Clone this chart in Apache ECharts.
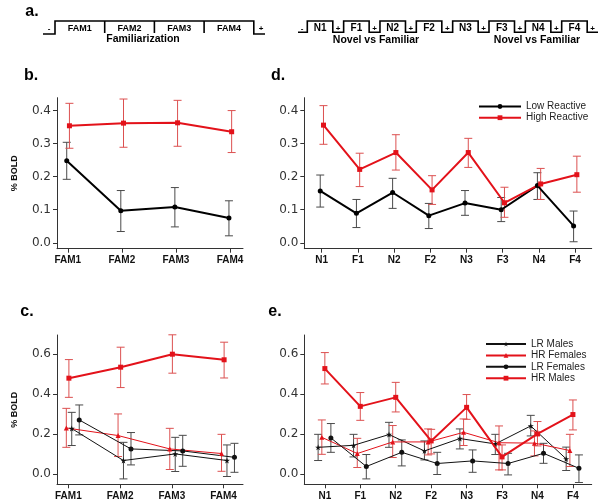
<!DOCTYPE html>
<html>
<head>
<meta charset="utf-8">
<script src="https://cdn.jsdelivr.net/npm/echarts@6/dist/echarts.min.js"></script>
<style>
html, body { margin: 0; padding: 0; background: #fff; }
#chart { width: 600px; height: 503px; }
</style>
</head>
<body>
<div id="chart"></div>
<script>
// categories and tick values
var famCats = ['FAM1', 'FAM2', 'FAM3', 'FAM4'];
var nfCats = ['N1', 'F1', 'N2', 'F2', 'N3', 'F3', 'N4', 'F4'];
var ticksTop = [0, 0.1, 0.2, 0.3, 0.4];
var ticksBottom = [0, 0.2, 0.4, 0.6];

// each point: [mean, lower whisker, upper whisker]
// b. familiarization
var bLow = [[0.248, 0.192, 0.304], [0.097, 0.034, 0.158], [0.108, 0.048, 0.167], [0.075, 0.021, 0.127]];
var bHigh = [[0.354, 0.286, 0.422], [0.362, 0.289, 0.435], [0.363, 0.292, 0.431], [0.336, 0.273, 0.400]];
// d. novel vs familiar
var dLow = [[0.157, 0.108, 0.205], [0.089, 0.046, 0.131], [0.152, 0.104, 0.195], [0.082, 0.043, 0.119],
  [0.120, 0.083, 0.158], [0.100, 0.064, 0.137], [0.173, 0.131, 0.212], [0.051, 0.003, 0.096]];
var dHigh = [[0.356, 0.298, 0.415], [0.222, 0.170, 0.271], [0.273, 0.220, 0.327], [0.160, 0.116, 0.203],
  [0.273, 0.228, 0.316], [0.121, 0.077, 0.168], [0.178, 0.131, 0.225], [0.206, 0.153, 0.262]];
// c. familiarization by sex
var cHRM = [[0.479, 0.383, 0.572], [0.534, 0.432, 0.634], [0.599, 0.504, 0.696], [0.571, 0.480, 0.659]];
var cHRF = [[0.230, 0.133, 0.328], [0.192, 0.087, 0.300], [0.125, 0.022, 0.228], [0.102, 0.013, 0.198]];
var cLRM = [[0.227, 0.142, 0.308], [0.067, -0.025, 0.158], [0.100, 0.012, 0.183], [0.067, -0.013, 0.145]];
var cLRF = [[0.270, 0.195, 0.345], [0.125, 0.045, 0.207], [0.115, 0.038, 0.193], [0.083, 0.008, 0.153]];
// e. novel vs familiar by sex
var eLRM = [[0.133, 0.067, 0.198], [0.143, 0.085, 0.198], [0.197, 0.133, 0.258], [0.115, 0.070, 0.165],
  [0.177, 0.125, 0.225], [0.150, 0.097, 0.198], [0.240, 0.190, 0.293], [0.075, 0.017, 0.134]];
var eHRF = [[0.183, 0.098, 0.270], [0.102, 0.032, 0.178], [0.160, 0.082, 0.242], [0.160, 0.095, 0.225],
  [0.208, 0.142, 0.275], [0.156, 0.020, 0.240], [0.154, 0.090, 0.215], [0.117, 0.037, 0.198]];
var eLRF = [[0.180, 0.108, 0.252], [0.037, -0.025, 0.097], [0.108, 0.040, 0.170], [0.052, -0.003, 0.108],
  [0.065, 0.008, 0.120], [0.052, -0.005, 0.103], [0.103, 0.053, 0.153], [0.028, -0.043, 0.095]];
var eHRM = [[0.527, 0.450, 0.607], [0.338, 0.268, 0.407], [0.383, 0.310, 0.458], [0.165, 0.100, 0.223],
  [0.333, 0.273, 0.397], [0.085, 0.020, 0.145], [0.200, 0.140, 0.262], [0.297, 0.220, 0.370]];

var RED = '#e3121a';
var RED_ERR = '#dc5050';
var BLK_ERR = '#4a4a4a';
var STAR = 'path://M50,0 L61,35 L98,35 L68,57 L79,91 L50,70 L21,91 L32,57 L2,35 L39,35 Z';
var FONT = 'Liberation Sans';

var chart = echarts.init(document.getElementById('chart'));

function errRender(color, cap) {
	return function (params, api) {
		var x = api.value(0);
		var top = api.coord([x, api.value(2)]);
		var bot = api.coord([x, api.value(1)]);
		var st = { stroke: color, lineWidth: 1 };
		return {
			type: 'group',
			children: [
				{ type: 'line', shape: { x1: top[0], y1: top[1], x2: bot[0], y2: bot[1] }, style: st },
				{ type: 'line', shape: { x1: top[0] - cap, y1: top[1], x2: top[0] + cap, y2: top[1] }, style: st },
				{ type: 'line', shape: { x1: bot[0] - cap, y1: bot[1], x2: bot[0] + cap, y2: bot[1] }, style: st }
			]
		};
	};
}

var series = [];
function addGroup(idx, s) {
	series.push({
		type: 'custom',
		xAxisIndex: idx,
		yAxisIndex: idx,
		renderItem: errRender(s.err, 4),
		data: s.data.map(function (d, i) { return [i + 1 + s.off, d[1], d[2]]; }),
		z: 1,
		silent: true
	});
	series.push({
		name: s.name,
		type: 'line',
		xAxisIndex: idx,
		yAxisIndex: idx,
		data: s.data.map(function (d, i) { return [i + 1 + s.off, d[0]]; }),
		symbol: s.symbol,
		symbolSize: s.size,
		showSymbol: true,
		lineStyle: { color: s.color, width: s.width },
		itemStyle: { color: s.color },
		z: s.z || 2,
		silent: true
	});
}

// b
addGroup(0, { name: 'Low Reactive', data: bLow, off: -0.02, color: '#000', err: BLK_ERR, width: 2, symbol: 'circle', size: 5 });
addGroup(0, { name: 'High Reactive', data: bHigh, off: 0.03, color: RED, err: RED_ERR, width: 2, symbol: 'rect', size: 5 });
// d
addGroup(1, { name: 'Low Reactive', data: dLow, off: -0.04, color: '#000', err: BLK_ERR, width: 2, symbol: 'circle', size: 5 });
addGroup(1, { name: 'High Reactive', data: dHigh, off: 0.05, color: RED, err: RED_ERR, width: 2, symbol: 'rect', size: 5 });
// c
addGroup(2, { name: 'LR Males', data: cLRM, off: 0.065, color: '#111', err: BLK_ERR, width: 1, symbol: STAR, size: 6 });
addGroup(2, { name: 'HR Females', data: cHRF, off: -0.04, color: RED, err: RED_ERR, width: 1, symbol: 'triangle', size: 5 });
addGroup(2, { name: 'LR Females', data: cLRF, off: 0.21, color: '#111', err: BLK_ERR, width: 1, symbol: 'circle', size: 5 });
addGroup(2, { name: 'HR Males', data: cHRM, off: 0.01, color: RED, err: RED_ERR, width: 2, symbol: 'rect', size: 5, z: 3 });
// e
addGroup(3, { name: 'LR Males', data: eLRM, off: -0.19, color: '#111', err: BLK_ERR, width: 1, symbol: STAR, size: 6 });
addGroup(3, { name: 'HR Females', data: eHRF, off: -0.085, color: RED, err: RED_ERR, width: 1, symbol: 'triangle', size: 5 });
addGroup(3, { name: 'LR Females', data: eLRF, off: 0.17, color: '#111', err: BLK_ERR, width: 1, symbol: 'circle', size: 5 });
addGroup(3, { name: 'HR Males', data: eHRM, off: 0, color: RED, err: RED_ERR, width: 2, symbol: 'rect', size: 5, z: 3 });

function xAx(idx, cats, min, max) {
	var vals = cats.map(function (c, i) { return i + 1; });
	return {
		type: 'value', gridIndex: idx, min: min, max: max,
		axisLine: { show: true, onZero: false, lineStyle: { color: '#333', width: 1 } },
		axisTick: { show: true, length: 4, customValues: vals, lineStyle: { color: '#333' } },
		axisLabel: {
			customValues: vals, margin: 7, color: '#111', fontSize: 10, fontWeight: 'bold', fontFamily: FONT,
			formatter: function (v) { return cats[Math.round(v) - 1]; }
		},
		splitLine: { show: false }
	};
}
function yAx(idx, ticks, min, max, name) {
	return {
		type: 'value', gridIndex: idx, min: min, max: max,
		name: name, nameLocation: 'middle', nameGap: 38, nameRotate: 90,
		nameTextStyle: { fontSize: 9, fontWeight: 'bold', color: '#111', fontFamily: FONT },
		axisLine: { show: true, lineStyle: { color: '#333', width: 1 } },
		axisTick: { show: true, length: 4, customValues: ticks, lineStyle: { color: '#333' } },
		axisLabel: {
			customValues: ticks, margin: 6, color: '#333', fontSize: 12, fontFamily: 'DejaVu Sans',
			formatter: function (v) { return v.toFixed(1); }
		},
		splitLine: { show: false }
	};
}

// schematic row (panel a)
var graphics = [];
function txt(x, y, s, font, extra) {
	var o = { type: 'text', x: x, y: y, style: { text: s, font: font, fill: '#000', textAlign: 'center', textVerticalAlign: 'middle' }, silent: true };
	if (extra) { for (var k in extra) o[k] = extra[k]; }
	graphics.push(o);
}
function pline(pts, w) {
	graphics.push({ type: 'polyline', shape: { points: pts }, style: { stroke: '#000', lineWidth: w, fill: null }, silent: true });
}

// left: familiarization blocks
var lTop = 21, lBase = 34, lStart = 55, lW = 49.7;
pline([[43, lBase], [lStart, lBase], [lStart, lTop], [lStart + lW * 4, lTop], [lStart + lW * 4, lBase], [265, lBase]], 1.6);
famCats.forEach(function (c, i) {
	if (i > 0) pline([[lStart + lW * i, lTop], [lStart + lW * i, lBase - 1]], 1.6);
	txt(lStart + lW * (i + 0.5), 28.5, c, 'bold 9px ' + FONT);
});
txt(49, 29, '-', 'bold 8px ' + FONT);
txt(261, 29, '+', 'bold 8px ' + FONT);
txt(143, 39.5, 'Familiarization', 'bold 10.5px ' + FONT);

// right: novel / familiar blocks
var rTop = 21, rBase = 32.3, rStart = 307.3, rPer = 36.34, rW = 25.5;
var rPts = [[298, rBase]];
nfCats.forEach(function (c, i) {
	var x0 = rStart + rPer * i;
	rPts.push([x0, rBase], [x0, rTop], [x0 + rW, rTop], [x0 + rW, rBase]);
	txt(x0 + rW / 2, 28.5, c, 'bold 10px ' + FONT);
	txt(x0 + rW + 5.4, 28.5, '+', 'bold 8px ' + FONT);
});
rPts.push([598, rBase]);
pline(rPts, 1.6);
txt(302, 28.5, '-', 'bold 8px ' + FONT);
txt(376, 40, 'Novel vs Familiar', 'bold 10.5px ' + FONT);
txt(537, 40, 'Novel vs Familiar', 'bold 10.5px ' + FONT);

// panel letters
txt(32, 12, 'a.', 'bold 16px ' + FONT);
txt(31, 76, 'b.', 'bold 16px ' + FONT);
txt(278, 76, 'd.', 'bold 16px ' + FONT);
txt(27, 312, 'c.', 'bold 16px ' + FONT);
txt(275, 312, 'e.', 'bold 16px ' + FONT);

var option = {
	backgroundColor: '#fff',
	animation: false,
	grid: [
		{ left: 57, right: 357, top: 97.7, bottom: 254.3 },
		{ left: 304.3, right: 8.3, top: 97.7, bottom: 254.3 },
		{ left: 57, right: 357, top: 335, bottom: 18.7 },
		{ left: 304.3, right: 8.3, top: 335, bottom: 18.7 }
	],
	xAxis: [
		xAx(0, famCats, 0.8, 4.24),
		xAx(1, nfCats, 0.52, 8.46),
		xAx(2, famCats, 0.78, 4.375),
		xAx(3, nfCats, 0.42, 8.53)
	],
	yAxis: [
		yAx(0, ticksTop, -0.018, 0.439, '% BOLD'),
		yAx(1, ticksTop, -0.018, 0.439, ''),
		yAx(2, ticksBottom, -0.052, 0.695, '% BOLD'),
		yAx(3, ticksBottom, -0.052, 0.695, '')
	],
	legend: [
		{
			data: ['Low Reactive', 'High Reactive'],
			orient: 'vertical', left: 478, top: 101.5, padding: 0, itemWidth: 42, itemHeight: 6, itemGap: 1.2,
			selectedMode: false,
			textStyle: { fontSize: 10, color: '#222', fontFamily: FONT }
		},
		{
			data: ['LR Males', 'HR Females', 'LR Females', 'HR Males'],
			orient: 'vertical', left: 485, top: 339, padding: 0, itemWidth: 40, itemHeight: 6, itemGap: 1.4,
			selectedMode: false,
			textStyle: { fontSize: 10, color: '#222', fontFamily: FONT }
		}
	],
	graphic: graphics,
	series: series
};
chart.setOption(option);
</script>
</body>
</html>
